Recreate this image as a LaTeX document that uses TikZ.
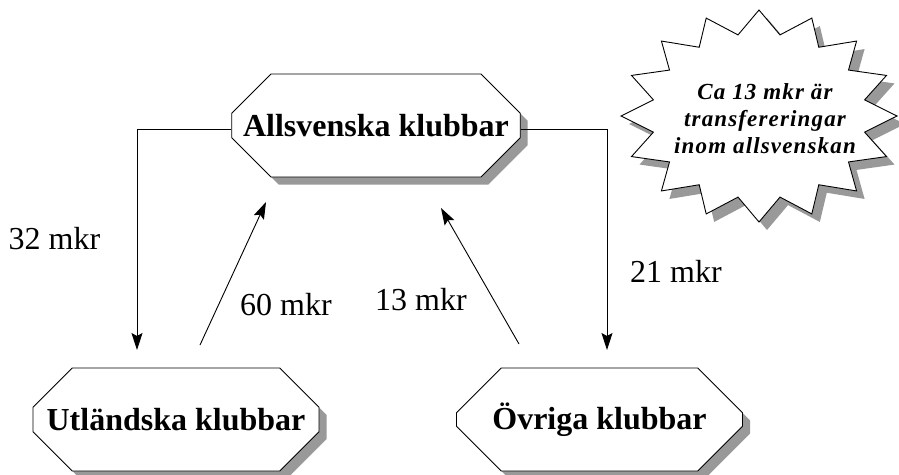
\documentclass[tikz,border=0pt]{standalone}
\usepackage{fontspec}
\setmainfont{Liberation Serif}
\newfontfamily\starfont{Liberation Serif}[LetterSpace=5]
\usetikzlibrary{shapes.misc,shadows,arrows.meta}
\definecolor{shadowgray}{RGB}{153,153,153}
\begin{document}
\begin{tikzpicture}[x=1pt,y=-1pt,
  club/.style={chamfered rectangle, chamfered rectangle xsep=30pt,
    chamfered rectangle ysep=28pt, draw, line width=0.9pt, fill=white,
    minimum width=286pt, minimum height=103pt, inner sep=0pt,
    font=\fontsize{32}{38}\selectfont\bfseries,
    drop shadow={shadow xshift=7.5pt, shadow yshift=-7.5pt, fill=shadowgray, opacity=1}},
  flow/.style={line width=0.9pt, -{Stealth[length=17pt,width=11pt,inset=3pt]}},
  amount/.style={font=\fontsize{32}{38}\selectfont, inner sep=0pt},
  startext/.style={font=\starfont\fontsize{23}{27}\selectfont\bfseries\itshape, align=center, inner sep=0pt},
]
\useasboundingbox (0,0) rectangle (899,474);
\fill[white] (0,0) rectangle (899,474);

% star
\fill[shadowgray, shift={(8,8)}] (759+138,116)
  \foreach \k [evaluate=\k as \r using {1-0.22*isodd(\k)}] in {1,...,31}{
    -- ({759+138*\r*cos(\k*11.25)}, {116-106*\r*sin(\k*11.25)}) } -- cycle;
\draw[line width=0.9pt, fill=white] (759+138,116)
  \foreach \k [evaluate=\k as \r using {1-0.22*isodd(\k)}] in {1,...,31}{
    -- ({759+138*\r*cos(\k*11.25)}, {116-106*\r*sin(\k*11.25)}) } -- cycle;
\node[startext] (note) at (765,119) {Ca 13 mkr är\\transfereringar\\inom allsvenskan};

% clubs
\node[club] (A) at (376,125.5) {Allsvenska klubbar};
\node[club] (U) at (176,419.5) {Utländska klubbar};
\node[club] (O) at (599.5,419.5) {Övriga klubbar};

% connector ends
\coordinate (c32) at (137,350);
\coordinate (c21) at (607,350);
\coordinate (s60) at (200,345);
\coordinate (e60) at (266,202);
\coordinate (s13) at (519,344);
\coordinate (e13) at (441,208);

\draw[flow] ([yshift=-4pt]A.west) -| (c32);
\draw[flow] ([yshift=-4pt]A.east) -| (c21);
\draw[flow] (s60) -- (e60);
\draw[flow] (s13) -- (e13);

% amounts
\node[amount] (l32) at (54.5,238.5) {32 mkr};
\node[amount] (l60) at (286,305) {60 mkr};
\node[amount] (l13) at (421,299.5) {13 mkr};
\node[amount] (l21) at (676,271.5) {21 mkr};
\end{tikzpicture}
\end{document}
